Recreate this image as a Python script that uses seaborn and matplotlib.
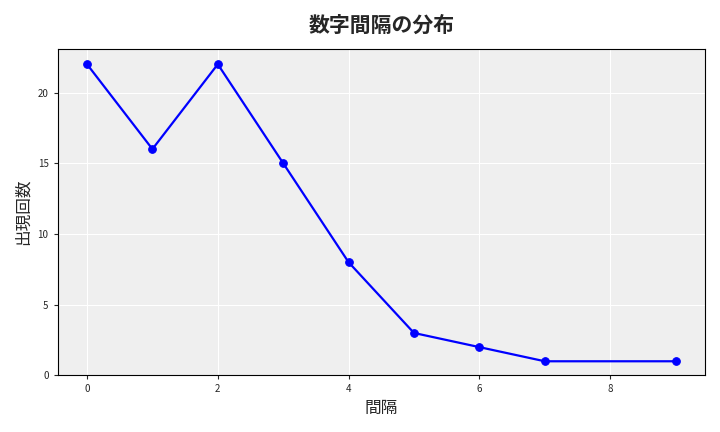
import matplotlib
matplotlib.use('Agg')
import matplotlib.pyplot as plt
import seaborn as sns
import pandas as pd

gaps = [0, 1, 2, 3, 4, 5, 6, 7, 9]
counts = [22, 16, 22, 15, 8, 3, 2, 1, 1]

sns.set_style('darkgrid', {'axes.facecolor': '#efefef', 'grid.color': 'white'})
plt.rcParams['font.family'] = ['Noto Sans CJK JP', 'DejaVu Sans']

df = pd.DataFrame({'gap': gaps, 'count': counts})

fig, ax = plt.subplots(figsize=(7.2, 4.32), dpi=100)
sns.lineplot(data=df, x='gap', y='count', color='blue', marker='o',
             markersize=5.5, markeredgecolor='blue', linewidth=1.6, ax=ax)
ax.set_title('数字間隔の分布', fontsize=15, fontweight='bold', pad=12)
ax.set_xlabel('間隔', fontsize=12)
ax.set_ylabel('出現回数', fontsize=12)
ax.tick_params(labelsize=7, length=3, left=True, bottom=True)
ax.set_ylim(0, 23.1)
for s in ax.spines.values():
    s.set_visible(True)
    s.set_color('black')
    s.set_linewidth(0.8)

plt.tight_layout()
plt.savefig('out.png', dpi=100)
